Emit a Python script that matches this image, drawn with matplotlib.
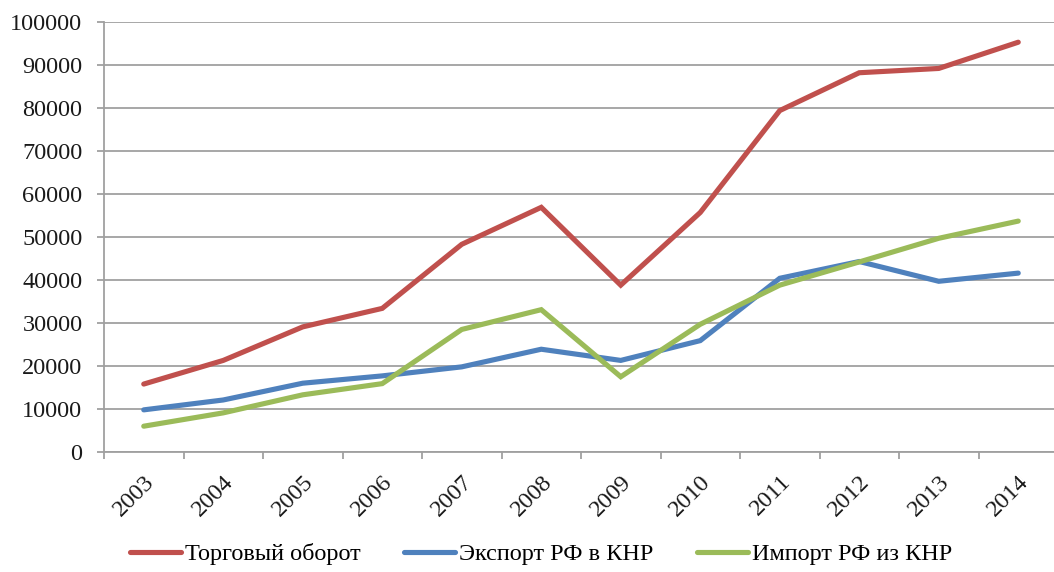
import matplotlib
matplotlib.use("Agg")
import matplotlib.pyplot as plt
import numpy as np

years = ["2003", "2004", "2005", "2006", "2007", "2008", "2009", "2010", "2011", "2012", "2013", "2014"]
trade = [15800, 21300, 29100, 33400, 48300, 56900, 38800, 55700, 79400, 88200, 89200, 95300]
export = [9800, 12100, 16000, 17700, 19800, 23900, 21300, 25900, 40400, 44300, 39700, 41600]
imp = [6000, 9100, 13300, 15900, 28500, 33100, 17500, 29700, 38800, 44200, 49700, 53700]
series_names = ["Торговый оборот", "Экспорт РФ в КНР", "Импорт РФ из КНР"]
colors = ["#C0504D", "#4F81BD", "#9BBB59"]
yticks = list(range(0, 100001, 10000))

plt.rcParams['font.family'] = ['Liberation Serif', 'DejaVu Serif']

W, H = 1054, 572
fig = plt.figure(figsize=(W / 100, H / 100), dpi=100)
left, right, top, bottom = 104, 1058, 22, 452
ax = fig.add_axes([left / W, (H - bottom) / H, (right - left) / W, (bottom - top) / H])

x = np.arange(len(years))
for vals, name, c in zip([trade, export, imp], series_names, colors):
    ax.plot(x, vals, color=c, lw=3.7, label=name, solid_capstyle='round', solid_joinstyle='miter')

ax.set_xlim(-0.5, len(years) - 0.5)
ax.set_ylim(0, 100000)
ax.set_yticks(yticks)
ax.set_yticklabels([str(v) for v in yticks], fontsize=17.5, color='#1a1a1a')
ax.set_xticks(np.arange(-0.5, len(years) + 0.5, 1.0))
ax.set_xticklabels([])
ax.set_xticks(x, minor=True)
ax.set_xticklabels(years, minor=True, rotation=45, ha='right', va='top',
                   rotation_mode='anchor', fontsize=17.5, color='#1a1a1a')
ax.tick_params(axis='x', which='minor', length=0, pad=14)
ax.tick_params(axis='x', which='major', length=5, width=1.3, color='#A0A0A0', direction='out')
ax.tick_params(axis='y', length=5, width=1.3, color='#A0A0A0', direction='out', pad=10.5)

ax.grid(axis='y', color='#A0A0A0', lw=1.3)
ax.set_axisbelow(True)
for s in ['top', 'right']:
    ax.spines[s].set_visible(False)
for s in ['left', 'bottom']:
    ax.spines[s].set_color('#A0A0A0')
    ax.spines[s].set_linewidth(1.3)

leg = fig.legend(loc='center', bbox_to_anchor=(541 / W, 1 - 554 / H), ncol=3, frameon=False,
                 fontsize=17.5, handlelength=2.1, handletextpad=0.15, columnspacing=1.8)

fig.savefig("out.png", dpi=100)
